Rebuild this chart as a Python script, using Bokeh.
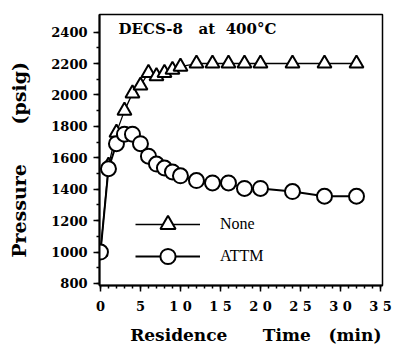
from bokeh.plotting import figure
from bokeh.models import (FixedTicker, Legend, LegendItem, Label, Range1d)
from bokeh.embed import file_html
from bokeh.resources import INLINE

# ---- data ----
time_min = [0, 1, 2, 3, 4, 5, 6, 7, 8, 9, 10, 12, 14, 16, 18, 20, 24, 28, 32]
none_psig = [1000, 1550, 1760, 1900, 2010, 2060, 2140, 2120, 2140, 2160, 2180,
             2200, 2200, 2200, 2200, 2200, 2200, 2200, 2200]
attm_psig = [1000, 1530, 1690, 1750, 1750, 1690, 1610, 1560, 1535, 1510, 1485,
             1455, 1440, 1440, 1405, 1405, 1385, 1355, 1355]

x_ticks = [0, 5, 10, 15, 20, 25, 30, 35]
x_minor = list(range(0, 36))
y_ticks = [800, 1000, 1200, 1400, 1600, 1800, 2000, 2200, 2400]
y_minor = list(range(800, 2500, 100))
x_tick_labels = {0: "0", 5: "5", 10: "1 0", 15: "1 5", 20: "2 0",
                 25: "2 5", 30: "3 0", 35: "3 5"}

series_names = ["None", "ATTM"]
NB = "\u00a0"
title_text = "DECS-8" + NB * 3 + "at" + NB * 2 + "400°C"
x_label = NB * 5 + "Residence" + NB * 6 + "Time" + NB * 3 + "(min)"
y_label = "Pressure" + NB * 6 + "(psig)" + NB * 3

SERIF_B = "DejaVu Serif"

p = figure(width=395, height=347, output_backend="svg", toolbar_location=None,
           x_range=Range1d(-0.12, 35.25), y_range=Range1d(787, 2512),
           min_border_left=99, min_border_right=13, min_border_top=14,
           min_border_bottom=60)
p.grid.visible = False
p.outline_line_color = "black"
p.outline_line_width = 1.5
p.background_fill_color = "white"
p.border_fill_color = "white"

for ax, ticks, minor in ((p.xaxis[0], x_ticks, x_minor), (p.yaxis[0], y_ticks, y_minor)):
    ax.ticker = FixedTicker(ticks=ticks, minor_ticks=minor)
    ax.axis_line_width = 2
    ax.axis_line_color = "black"
    ax.major_tick_line_width = 1.5
    ax.minor_tick_line_width = 1.5
    ax.major_tick_in = 0
    ax.major_tick_out = 6
    ax.minor_tick_in = 0
    ax.minor_tick_out = 3
    ax.major_label_text_font = SERIF_B
    ax.major_label_text_font_style = "bold"
    ax.major_label_text_font_size = "13px"
    ax.major_label_text_color = "black"
    ax.axis_label_text_font = SERIF_B
    ax.axis_label_text_font_style = "bold"
    ax.axis_label_text_color = "black"

p.xaxis.major_label_overrides = x_tick_labels
p.xaxis.axis_label = x_label
p.xaxis.axis_label_text_font_size = "17px"
p.xaxis.major_label_standoff = 7
p.xaxis.axis_label_standoff = 8
p.yaxis.axis_label = y_label
p.yaxis.axis_label_text_font_size = "19px"
p.yaxis.major_label_standoff = 6
p.yaxis.axis_label_standoff = 18

l_none = p.line(time_min, none_psig, line_color="black", line_width=1.3)
s_none = p.scatter(time_min, none_psig, marker="triangle", size=14,
                   fill_color="white", line_color="black", line_width=2)
l_attm = p.line(time_min, attm_psig, line_color="black", line_width=2)
s_attm = p.scatter(time_min, attm_psig, marker="circle", size=15,
                   fill_color="white", line_color="black", line_width=2)

legend_style = dict(glyph_width=65, glyph_height=38, label_height=38,
                    label_standoff=20, spacing=0, padding=0, margin=0,
                    border_line_alpha=0, background_fill_alpha=0,
                    label_text_font="Liberation Serif", label_text_font_size="16px",
                    label_text_color="black")
legend_none = Legend(items=[LegendItem(label=series_names[0], renderers=[l_none, s_none])],
                     location=(36, 42), **legend_style)
legend_attm = Legend(items=[LegendItem(label=series_names[1], renderers=[l_attm, s_attm])],
                     location=(36, 10), **legend_style)
p.add_layout(legend_none)
p.add_layout(legend_attm)

title = Label(x=19, y=257, x_units="screen", y_units="screen", text=title_text,
              text_font=SERIF_B, text_font_style="bold", text_font_size="15px",
              text_baseline="middle", text_color="black")
p.add_layout(title)

open("out.html", "w").write(file_html(p, INLINE))
